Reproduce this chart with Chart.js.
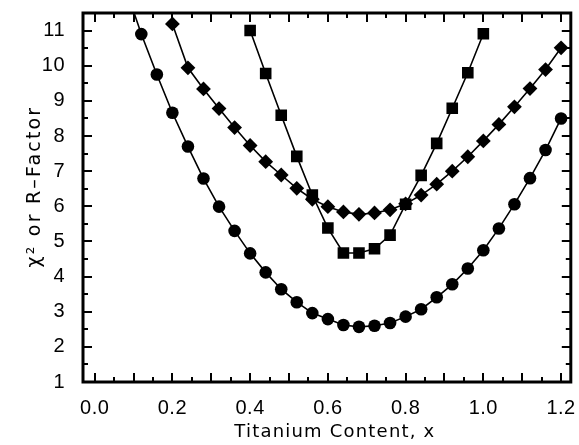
<!DOCTYPE html>
<html>
<head>
<meta charset="utf-8">
<script src="https://cdn.jsdelivr.net/npm/chart.js@4.4.0/dist/chart.umd.min.js"></script>
<style>
  html, body { margin: 0; padding: 0; background: #fff; }
  #wrap { width: 579px; height: 445px; }
</style>
</head>
<body>
<div id="wrap"><canvas id="c" width="579" height="445"></canvas></div>
<script>
// data
const circleX = [0.08, 0.12, 0.16, 0.20, 0.24, 0.28, 0.32, 0.36, 0.40, 0.44, 0.48, 0.52, 0.56, 0.60, 0.64,
                 0.68, 0.72, 0.76, 0.80, 0.84, 0.88, 0.92, 0.96, 1.00, 1.04, 1.08, 1.12, 1.16, 1.20];
const circleY = [12.2, 10.9, 9.75, 8.66, 7.70, 6.79, 5.99, 5.30, 4.66, 4.12, 3.64, 3.27, 2.96, 2.79, 2.62,
                 2.57, 2.60, 2.68, 2.86, 3.07, 3.41, 3.78, 4.23, 4.75, 5.37, 6.06, 6.80, 7.60, 8.50];

const diamondX = [0.20, 0.24, 0.28, 0.32, 0.36, 0.40, 0.44, 0.48, 0.52, 0.56, 0.60, 0.64, 0.68,
                  0.72, 0.76, 0.80, 0.84, 0.88, 0.92, 0.96, 1.00, 1.04, 1.08, 1.12, 1.16, 1.20];
const diamondY = [11.19, 9.94, 9.34, 8.78, 8.24, 7.73, 7.27, 6.89, 6.51, 6.20, 5.99, 5.84, 5.77,
                  5.81, 5.90, 6.07, 6.32, 6.63, 7.00, 7.41, 7.86, 8.33, 8.83, 9.35, 9.89, 10.51];

const squareX = [0.40, 0.44, 0.48, 0.52, 0.56, 0.60, 0.64, 0.68, 0.72, 0.76, 0.80, 0.84, 0.88, 0.92, 0.96, 1.00];
const squareY = [11.0, 9.78, 8.59, 7.42, 6.32, 5.38, 4.67, 4.67, 4.79, 5.18, 6.06, 6.88, 7.79, 8.79, 9.80, 10.91];

const xTickLabels = [0.0, 0.2, 0.4, 0.6, 0.8, 1.0, 1.2];
const yTickLabels = [1, 2, 3, 4, 5, 6, 7, 8, 9, 10, 11];
const xMajor = [0.0, 0.1, 0.2, 0.3, 0.4, 0.5, 0.6, 0.7, 0.8, 0.9, 1.0, 1.1, 1.2];
const xMinor = [0.05, 0.15, 0.25, 0.35, 0.45, 0.55, 0.65, 0.75, 0.85, 0.95, 1.05, 1.15];
const yMinor = [1.5, 2.5, 3.5, 4.5, 5.5, 6.5, 7.5, 8.5, 9.5, 10.5, 11.5];

const TICK_FONT = "'Liberation Sans', Arial, sans-serif";
const TITLE_FONT = "'DejaVu Sans', sans-serif";

function pts(xs, ys) {
  return xs.map((x, i) => ({ x, y: ys[i] }));
}

function series(xs, ys, style, radius) {
  return {
    data: pts(xs, ys),
    borderColor: '#000',
    backgroundColor: '#000',
    borderWidth: 1.6,
    pointStyle: style,
    pointRadius: radius,
    pointBorderWidth: 0,
    pointHoverRadius: radius,
    tension: 0,
    fill: false,
  };
}

// frame + inward tick marks on all four sides
const frameTicks = {
  id: 'frameTicks',
  afterDraw(chart) {
    const { ctx, chartArea: a, scales } = chart;
    const xs = scales.x, ys = scales.y;
    ctx.save();
    ctx.strokeStyle = '#000';
    ctx.lineWidth = 2;
    const tick = (px, len, horiz) => {
      ctx.beginPath();
      if (horiz) {
        ctx.moveTo(px, a.bottom); ctx.lineTo(px, a.bottom - len);
        ctx.moveTo(px, a.top); ctx.lineTo(px, a.top + len);
      } else {
        ctx.moveTo(a.left, px); ctx.lineTo(a.left + len, px);
        ctx.moveTo(a.right, px); ctx.lineTo(a.right - len, px);
      }
      ctx.stroke();
    };
    xMajor.forEach(v => tick(Math.round(xs.getPixelForValue(v)), 9, true));
    xMinor.forEach(v => tick(Math.round(xs.getPixelForValue(v)), 5, true));
    yTickLabels.forEach(v => tick(Math.round(ys.getPixelForValue(v)), 9, false));
    yMinor.forEach(v => tick(Math.round(ys.getPixelForValue(v)), 5, false));
    ctx.lineWidth = 3;
    ctx.strokeRect(a.left, a.top, a.right - a.left, a.bottom - a.top);
    ctx.restore();
  },
};

// wider spacing for the axis titles, nudged to where the reference puts them
const titleTweaks = {
  id: 'titleTweaks',
  beforeUpdate(chart) { chart.ctx.letterSpacing = '0.5px'; },
  afterUpdate(chart) {
    const wrap = (scale, spacing, dx, dy) => {
      if (scale._wrapped) return;
      const orig = scale.drawTitle.bind(scale);
      scale.drawTitle = function (area) {
        const ctx = this.ctx;
        ctx.save();
        ctx.letterSpacing = spacing;
        ctx.translate(dx, dy);
        orig(area);
        ctx.restore();
      };
      scale._wrapped = true;
    };
    wrap(chart.scales.x, '1.2px', 8, 0);
    wrap(chart.scales.y, '2.2px', 0, -11);
  },
};

new Chart(document.getElementById('c'), {
  type: 'line',
  data: {
    datasets: [
      series(circleX, circleY, 'circle', 6.3),
      series(diamondX, diamondY, 'rectRot', 7.4),
      series(squareX, squareY, 'rect', 8.2),
    ],
  },
  plugins: [frameTicks, titleTweaks],
  options: {
    responsive: false,
    animation: false,
    events: [],
    layout: { padding: { top: 13, right: 5, left: 0, bottom: 0 } },
    plugins: { legend: { display: false }, tooltip: { enabled: false } },
    scales: {
      x: {
        type: 'linear',
        min: -0.03,
        max: 1.225,
        afterBuildTicks: (s) => { s.ticks = xTickLabels.map(v => ({ value: v })); },
        afterFit: (s) => { s.height = 63; s.paddingLeft = 0; s.paddingRight = 0; },
        grid: { display: false },
        border: { display: false },
        ticks: {
          color: '#000',
          padding: 6,
          maxRotation: 0,
          font: { family: TICK_FONT, size: 20 },
          callback: (v) => Number(v).toFixed(1),
        },
        title: {
          display: true,
          text: 'Titanium Content, x',
          color: '#000',
          font: { family: TITLE_FONT, size: 18 },
          padding: { top: 0, bottom: 2 },
        },
      },
      y: {
        type: 'linear',
        min: 1,
        max: 11.5,
        afterBuildTicks: (s) => { s.ticks = yTickLabels.map(v => ({ value: v })); },
        afterFit: (s) => { s.width = 83; s.paddingTop = 0; s.paddingBottom = 0; },
        grid: { display: false },
        border: { display: false },
        ticks: {
          color: '#000',
          padding: 10,
          font: { family: TICK_FONT, size: 20 },
        },
        title: {
          display: true,
          text: 'χ² or R–Factor',
          color: '#000',
          font: { family: TITLE_FONT, size: 19 },
          padding: { top: 24, bottom: 0 },
        },
      },
    },
  },
});
</script>
</body>
</html>
